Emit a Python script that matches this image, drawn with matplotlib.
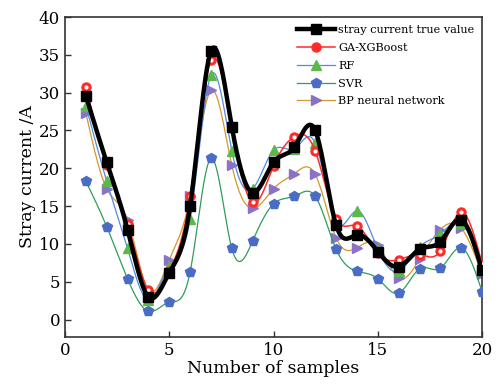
import numpy as np
import matplotlib
matplotlib.use('Agg')
import matplotlib.pyplot as plt
from matplotlib.lines import Line2D

samples = list(range(1, 21))
true_value = [29.6, 20.8, 11.9, 3.0, 6.2, 15.0, 35.5, 25.5, 16.8, 20.8,
              22.8, 25.0, 12.5, 11.2, 9.0, 7.0, 9.3, 10.3, 13.2, 6.5]
ga_xgb = [30.8, 20.4, 12.7, 3.9, 6.4, 16.3, 34.3, 25.3, 15.5, 20.3,
          24.2, 22.3, 13.3, 12.4, 8.8, 7.9, 8.6, 9.1, 14.2, 7.4]
rf = [28.3, 18.3, 9.4, 2.6, 7.1, 13.3, 32.3, 22.3, 17.3, 22.4,
      22.6, 23.3, 12.9, 14.4, 9.3, 6.4, 9.6, 11.3, 12.8, 6.6]
svr = [18.3, 12.3, 5.4, 1.1, 2.3, 6.3, 21.3, 9.4, 10.4, 15.3,
       16.3, 16.3, 9.3, 6.4, 5.4, 3.5, 6.7, 6.8, 9.5, 3.7]
bp = [27.3, 17.3, 13.2, 3.9, 7.9, 16.3, 30.3, 20.4, 14.7, 17.3,
      19.3, 19.2, 10.8, 9.5, 9.8, 5.5, 8.0, 11.9, 12.1, 6.0]


def spline(x, y, n=600):
    # natural cubic spline, like Origin's spline connection
    x = np.asarray(x, float)
    y = np.asarray(y, float)
    h = np.diff(x)
    N = len(x)
    A = np.zeros((N, N))
    r = np.zeros(N)
    A[0, 0] = 1
    A[-1, -1] = 1
    for i in range(1, N - 1):
        A[i, i - 1] = h[i - 1]
        A[i, i] = 2 * (h[i - 1] + h[i])
        A[i, i + 1] = h[i]
        r[i] = 3 * ((y[i + 1] - y[i]) / h[i] - (y[i] - y[i - 1]) / h[i - 1])
    c = np.linalg.solve(A, r)
    b = (y[1:] - y[:-1]) / h - h * (2 * c[:-1] + c[1:]) / 3
    d = (c[1:] - c[:-1]) / (3 * h)
    xs = np.linspace(x[0], x[-1], n)
    idx = np.clip(np.searchsorted(x, xs) - 1, 0, N - 2)
    t = xs - x[idx]
    ys = y[idx] + b[idx] * t + c[idx] * t ** 2 + d[idx] * t ** 3
    return xs, ys


plt.rcParams['font.family'] = ['DejaVu Serif']
fig = plt.figure(figsize=(4.98, 3.84), dpi=100)
ax = fig.add_axes([0.1305, 0.1224, 0.8375, 0.8333])

series = [
    ('stray current true value', true_value, 'black', 's', 'black', 3.2, 6.5),
    ('GA-XGBoost', ga_xgb, '#ff2a2a', 'o', '#ff2a2a', 1.1, 6.5),
    ('RF', rf, '#4f8be0', '^', '#5cb84a', 0.9, 7),
    ('SVR', svr, '#2e9e5a', 'p', '#4a6cc4', 0.9, 7),
    ('BP neural network', bp, '#d4962e', '>', '#8a72c8', 0.9, 7),
]

handles = []
for z, (name, vals, lc, mk, mc, lw, ms) in enumerate(reversed(series)):
    xs, ys = spline(samples, vals)
    ax.plot(xs, ys, color=lc, lw=lw, zorder=2 + z)
    ax.plot(samples, vals, linestyle='none', marker=mk, ms=ms,
            mfc=mc, mec=mc, zorder=2 + z)
    if mk == 'o':
        ax.plot(samples, vals, linestyle='none', marker='o', ms=2,
                mfc='white', mec='white', zorder=2 + z)

for name, vals, lc, mk, mc, lw, ms in series:
    handles.append(Line2D([], [], color=lc, lw=lw, marker=mk, ms=ms,
                          mfc=mc, mec=mc, label=name))

ax.legend(handles=handles, loc='upper right', frameon=False, fontsize=8.1,
          handlelength=3.3, handletextpad=0.3, labelspacing=0.7,
          borderaxespad=0.3)

ax.set_xlim(0, 20)
ax.set_ylim(-2.3, 40)
ax.set_xticks([0, 5, 10, 15, 20])
ax.set_yticks(range(0, 41, 5))
ax.tick_params(direction='in', labelsize=12, length=4, width=1, colors='#333333')
ax.tick_params(labelcolor='black')
for s in ax.spines.values():
    s.set_linewidth(1.2)
    s.set_color('#333333')
ax.set_xlabel('Number of samples', fontsize=12.5, labelpad=1)
ax.set_ylabel('Stray current /A', fontsize=12.5, labelpad=2)

fig.savefig('out.png', dpi=100)
